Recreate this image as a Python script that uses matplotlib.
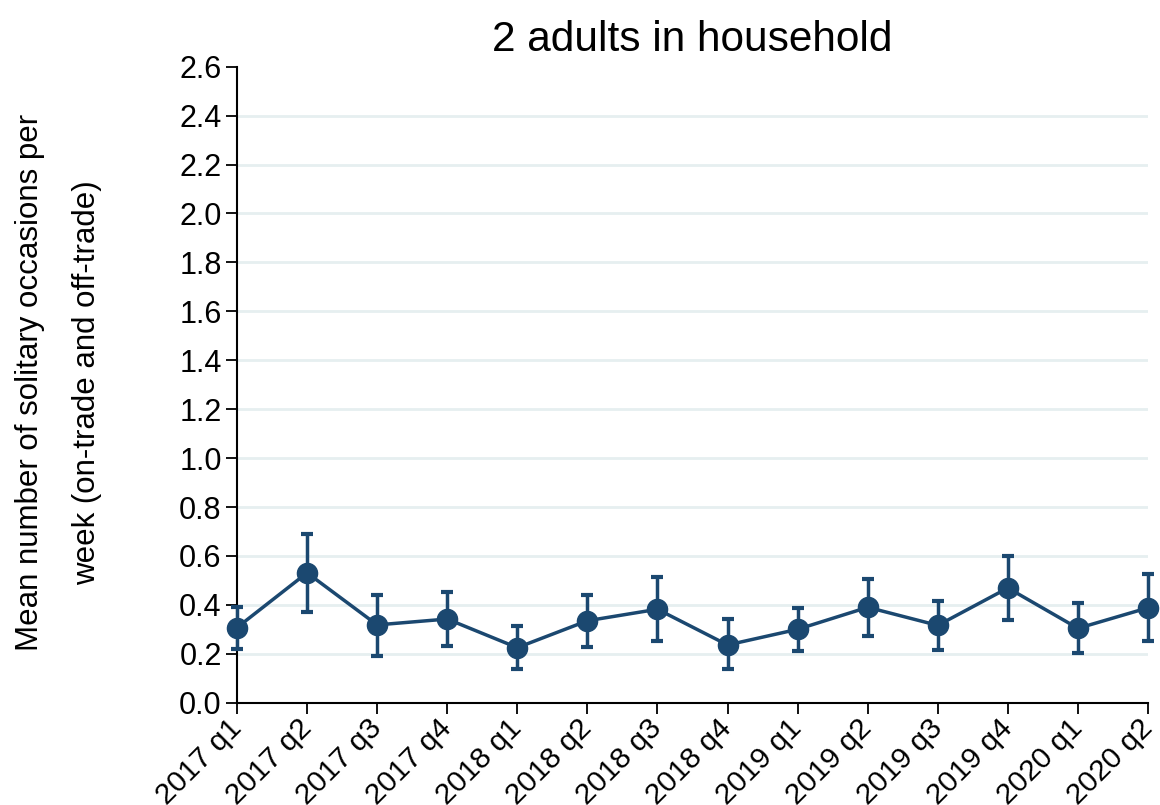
import matplotlib
matplotlib.use("Agg")
import matplotlib.pyplot as plt
import numpy as np

plt.rcParams['font.family'] = ['Liberation Sans', 'DejaVu Sans']

quarters = ["2017 q1", "2017 q2", "2017 q3", "2017 q4",
            "2018 q1", "2018 q2", "2018 q3", "2018 q4",
            "2019 q1", "2019 q2", "2019 q3", "2019 q4",
            "2020 q1", "2020 q2"]
mean_occasions = [0.307, 0.531, 0.318, 0.342, 0.225, 0.335, 0.382,
                  0.236, 0.300, 0.390, 0.316, 0.469, 0.304, 0.388]
ci_upper = [0.392, 0.690, 0.442, 0.454, 0.314, 0.442, 0.515,
            0.341, 0.387, 0.507, 0.417, 0.600, 0.406, 0.526]
ci_lower = [0.221, 0.372, 0.192, 0.232, 0.138, 0.229, 0.252,
            0.138, 0.213, 0.273, 0.215, 0.339, 0.203, 0.253]
y_ticks = [0.0, 0.2, 0.4, 0.6, 0.8, 1.0, 1.2, 1.4, 1.6, 1.8, 2.0, 2.2, 2.4, 2.6]

colour = "#1b4870"

fig = plt.figure(figsize=(11.6, 8.05), dpi=100)
ax = fig.add_axes([0.2043, 0.1271, 0.7854, 0.79])

x = np.arange(len(quarters))
mean = np.array(mean_occasions)
yerr = [mean - np.array(ci_lower), np.array(ci_upper) - mean]

# light gridlines, not at 0 or the top
for t in y_ticks[1:-1]:
    ax.axhline(t, color="#e6eff0", lw=2, zorder=0)

ax.errorbar(x, mean, yerr=yerr, color=colour, lw=2.5, marker="o", ms=14.5,
            elinewidth=2.5, capsize=4, capthick=3, clip_on=False, zorder=3)

ax.set_xlim(0, len(quarters) - 1)
ax.set_ylim(0, 2.6)
ax.set_yticks(y_ticks)
ax.set_yticklabels([f"{t:.1f}" for t in y_ticks])
ax.set_xticks(x)
ax.set_xticklabels(quarters, rotation=45, ha="right", va="center", rotation_mode="anchor")
ax.tick_params(axis="both", length=8, width=1.3, direction="out", colors="black")
ax.tick_params(axis="y", labelsize=22, pad=3)
ax.tick_params(axis="x", labelsize=21.5, pad=7)

for s in ["top", "right"]:
    ax.spines[s].set_visible(False)
for s in ["left", "bottom"]:
    ax.spines[s].set_linewidth(1.5)

ax.set_title("2 adults in household", fontsize=30.5, pad=11)
fig.text(0.026, 0.525, "Mean number of solitary occasions per", rotation=90,
         fontsize=22.5, ha="center", va="center")
fig.text(0.075, 0.525, "week (on-trade and off-trade)", rotation=90,
         fontsize=22.5, ha="center", va="center")

fig.savefig("out.png", dpi=100)
